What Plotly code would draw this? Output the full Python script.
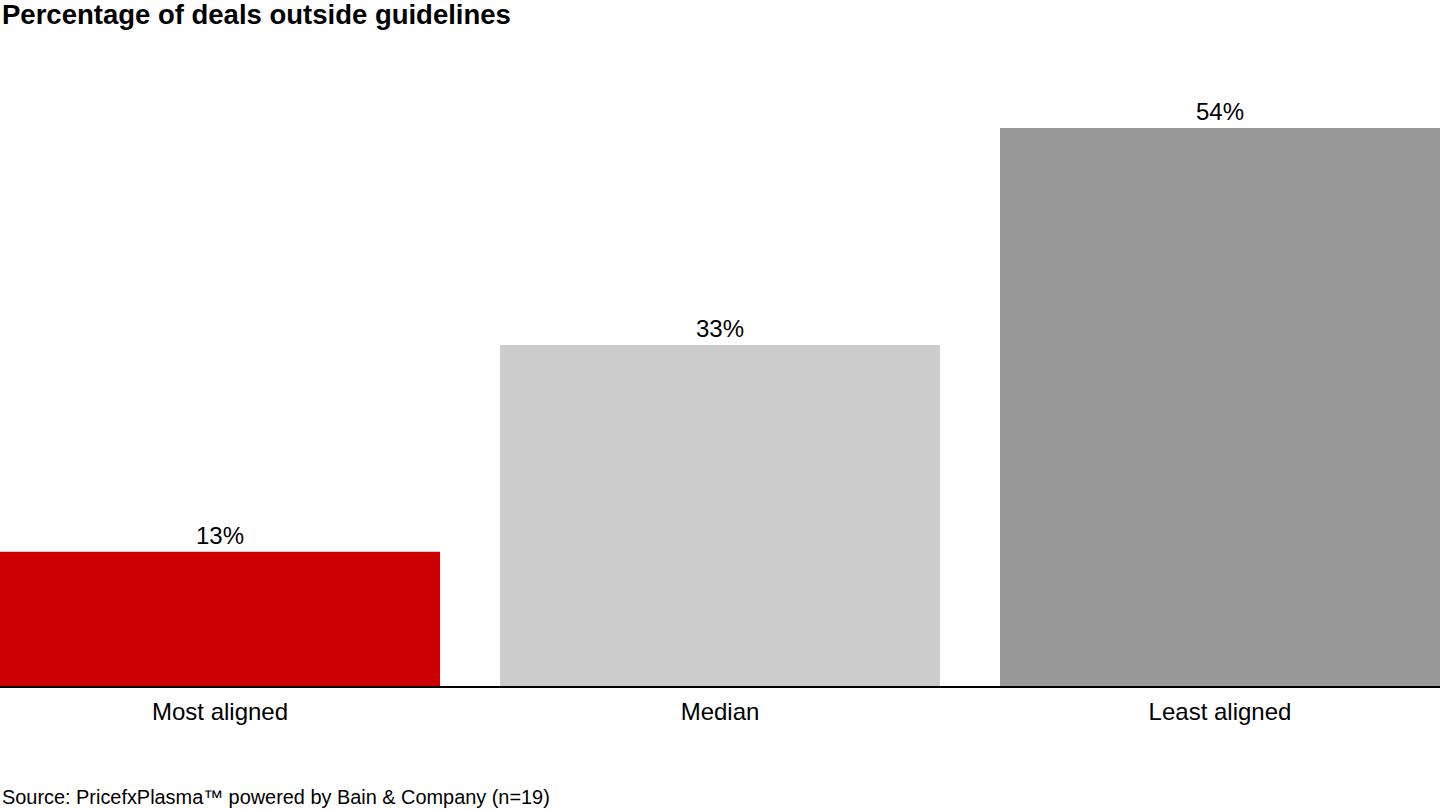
import plotly.graph_objects as go

# Data
categories = ["Most aligned", "Median", "Least aligned"]
values = [13, 33, 54]
labels = ["13%", "33%", "54%"]
colors = ["#CC0000", "#CCCCCC", "#999999"]

FONT = "Arial, Liberation Sans, sans-serif"

fig = go.Figure()

fig.add_trace(go.Bar(
    x=categories,
    y=values,
    text=labels,
    textposition="outside",
    textfont=dict(size=24, color="black", family=FONT),
    marker_color=colors,
    marker_line_width=0,
    width=0.88,
    cliponaxis=False,
    hoverinfo="skip",
))

# plot area: y from 66 to 686 px (620 px tall)
fig.update_layout(
    width=1440,
    height=810,
    margin=dict(l=0, r=0, t=66, b=124),
    paper_bgcolor="white",
    plot_bgcolor="white",
    showlegend=False,
    font=dict(family=FONT, color="black"),
    annotations=[
        dict(text="<b>Percentage of deals outside guidelines</b>",
             xref="paper", yref="paper", x=0, y=(686 - 15) / 620,
             xanchor="left", yanchor="middle", showarrow=False,
             font=dict(size=27.5, color="black", family=FONT)),
        dict(text="Source: PricefxPlasma™ powered by Bain & Company (n=19)",
             xref="paper", yref="paper", x=0, y=-(797 - 686) / 620,
             xanchor="left", yanchor="middle", showarrow=False,
             font=dict(size=19.9, color="black", family=FONT)),
    ],
)

fig.update_xaxes(
    range=[-0.44, 2.44],
    showline=True, linecolor="black", linewidth=2,
    ticks="", showgrid=False,
    tickfont=dict(size=24, color="black", family=FONT),
    ticklabelstandoff=3,
)
fig.update_yaxes(
    range=[0, 60],
    visible=False,
    showgrid=False,
)

fig.write_html("out.html", config={"displayModeBar": False},
               post_script="document.body.style.margin='0';")
